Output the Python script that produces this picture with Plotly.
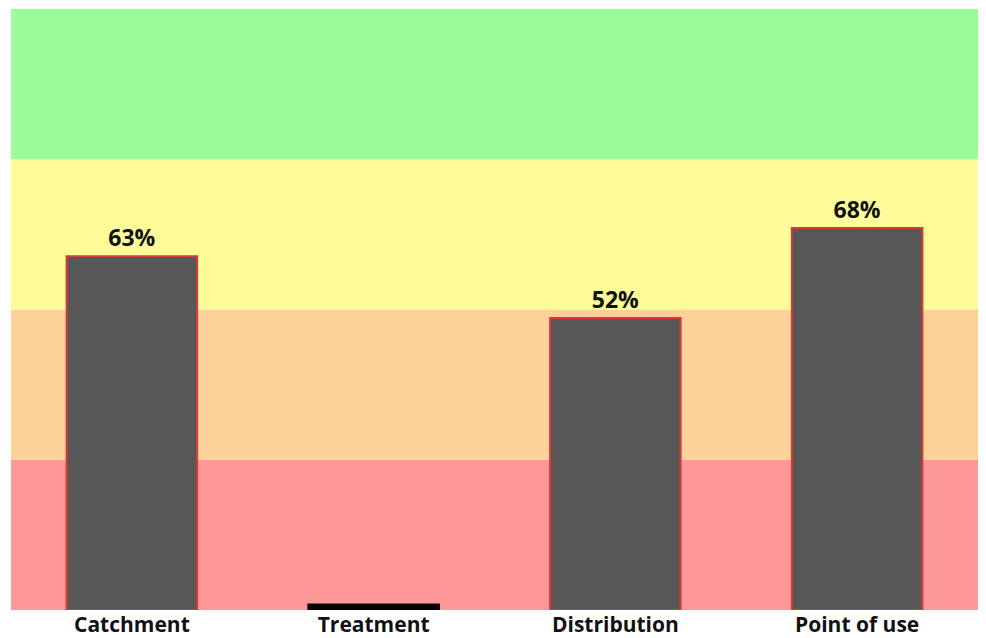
import plotly.graph_objects as go

categories = ["Catchment", "Treatment", "Distribution", "Point of use"]
values = [63, 1, 52, 68]
labels = ["63%", "", "52%", "68%"]
bar_colors = ["#575757", "#000000", "#575757", "#575757"]
line_colors = ["#d93a36", "#000000", "#d93a36", "#d93a36"]

band_edges = [0, 0.25, 0.5, 0.75, 1.0]
band_colors = ["#fe9797", "#fdd198", "#fefc99", "#9afd98"]

fig = go.Figure()
fig.add_trace(go.Bar(
    x=categories, y=values, text=labels, textposition="outside",
    marker=dict(color=bar_colors, line=dict(color=line_colors, width=2)),
    width=0.54, cliponaxis=False,
    textfont=dict(family="Open Sans", size=23, color="#111111", weight="bold"),
    hoverinfo="skip",
))

for i, c in enumerate(band_colors):
    fig.add_shape(type="rect", xref="paper", yref="paper", x0=0, x1=1,
                  y0=band_edges[i], y1=band_edges[i + 1], fillcolor=c,
                  line=dict(width=0), layer="below")

fig.update_layout(
    width=978, height=630,
    margin=dict(l=3, r=8, t=1, b=28, autoexpand=False),
    paper_bgcolor="white", plot_bgcolor="white",
    showlegend=False, bargap=0.46,
    xaxis=dict(showgrid=False, zeroline=False, showline=False, ticks="",
               automargin=False, ticklabelstandoff=0,
               tickfont=dict(family="Open Sans", size=21, color="#111111", weight="bold")),
    yaxis=dict(range=[0, 107], visible=False, showgrid=False, zeroline=False),
)
fig.write_html("out.html")
